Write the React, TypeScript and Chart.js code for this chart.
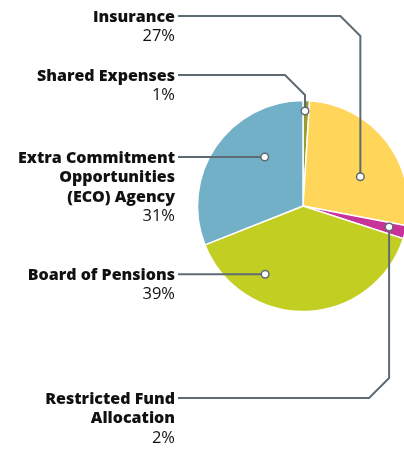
import React, { useEffect, useRef } from "react";
import { Chart, registerables } from "chart.js";

Chart.register(...registerables);

const categories = [
  "Shared Expenses",
  "Insurance",
  "Restricted Fund Allocation",
  "Board of Pensions",
  "Extra Commitment Opportunities (ECO) Agency",
];
const values = [1, 27, 2, 39, 31];
const labelLines = [
  ["Shared Expenses"],
  ["Insurance"],
  ["Restricted Fund", "Allocation"],
  ["Board of Pensions"],
  ["Extra Commitment", "Opportunities", "(ECO) Agency"],
];
const colors = ["#9c9c2e", "#ffd65a", "#c8339a", "#c3ce23", "#72b0c8"];

// marker placement inside each slice: angle (deg clockwise from top), radius fraction
const markerAngle = [1.2, 63, 103.7, 209, 322];
const markerRadius = [0.9, 0.61, 0.84, 0.74, 0.59];
// y of the label's first line (leader line level)
const labelY = [75, 16, 398, null, null];

const FONT = "'Open Sans', sans-serif";
const LINE_COLOR = "#5f6b73";

const labelsPlugin = {
  id: "leaderLabels",
  afterDatasetsDraw(chart: any) {
    const ctx = chart.ctx;
    const meta = chart.getDatasetMeta(0);
    const total = values.reduce((a, b) => a + b, 0);
    meta.data.forEach((arc: any, i: number) => {
      const { x, y, outerRadius } = arc.getProps(["x", "y", "outerRadius"], true);
      const a = (markerAngle[i] * Math.PI) / 180;
      const mx = x + Math.sin(a) * outerRadius * markerRadius[i];
      const my = y - Math.cos(a) * outerRadius * markerRadius[i];
      const ly = labelY[i] === null ? my : (labelY[i] as number);
      const textRight = 175;
      const lineStart = 178;
      const d = 20;
      ctx.save();
      ctx.strokeStyle = LINE_COLOR;
      ctx.lineWidth = 2;
      ctx.beginPath();
      ctx.moveTo(lineStart, ly);
      if (Math.abs(ly - my) < 1) {
        ctx.lineTo(mx, my);
      } else {
        const dir = my > ly ? 1 : -1;
        ctx.lineTo(mx - d, ly);
        ctx.lineTo(mx, ly + dir * d);
        ctx.lineTo(mx, my);
      }
      ctx.stroke();
      ctx.beginPath();
      ctx.arc(mx, my, 3.8, 0, Math.PI * 2);
      ctx.fillStyle = "#ffffff";
      ctx.fill();
      ctx.lineWidth = 1.5;
      ctx.stroke();

      ctx.fillStyle = "#111111";
      ctx.textAlign = "right";
      ctx.textBaseline = "middle";
      const lh = 19.5;
      ctx.font = `800 16px ${FONT}`;
      labelLines[i].forEach((t, k) => {
        ctx.fillText(t, textRight, ly + k * lh + 1);
      });
      ctx.font = `16.5px ${FONT}`;
      const pct = Math.round((values[i] / total) * 100) + "%";
      ctx.fillText(pct, textRight, ly + labelLines[i].length * lh + 1);
      ctx.restore();
    });
  },
};

export default function App() {
  const ref = useRef<HTMLCanvasElement | null>(null);
  useEffect(() => {
    if (!ref.current) return;
    const chart = new Chart(ref.current, {
      type: "pie",
      data: {
        labels: categories,
        datasets: [
          {
            data: values,
            backgroundColor: colors,
            borderColor: "#ffffff",
            borderWidth: 1.5,
          },
        ],
      },
      options: {
        animation: false,
        responsive: false,
        radius: 105.5,
        layout: { padding: { left: 202, right: 0, top: 0, bottom: 39 } },
        plugins: {
          legend: { display: false },
          tooltip: { enabled: false },
        },
      },
      plugins: [labelsPlugin],
    });
    return () => chart.destroy();
  }, []);
  return (
    <div style={{ position: "fixed", left: 0, top: 0, width: 404, height: 451, background: "#fff" }}>
      <canvas ref={ref} width={404} height={451} style={{ width: 404, height: 451 }} />
    </div>
  );
}
